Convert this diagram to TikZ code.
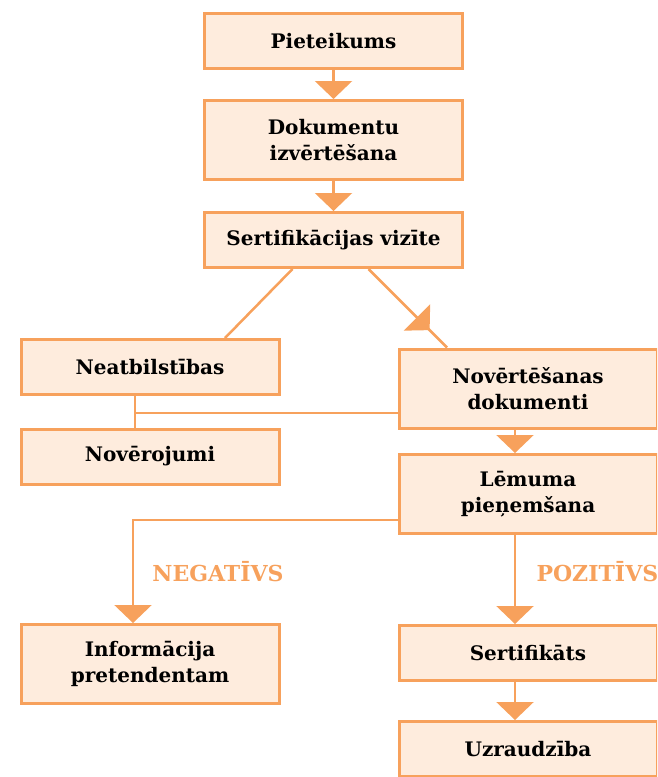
\documentclass[tikz,border=0pt]{standalone}
\usepackage{fontspec}
\setmainfont{DejaVu Serif}
\usetikzlibrary{positioning, arrows.meta, decorations.markings, calc}
\definecolor{flowline}{RGB}{247,161,92}
\definecolor{flowfill}{RGB}{254,236,221}
\tikzset{
    stage/.style={draw=flowline, fill=flowfill, line width=3pt, minimum width=258pt,
      minimum height=55pt, align=center, inner sep=2pt,
      font=\bfseries\fontsize{20}{26}\selectfont},
    tall/.append style={minimum height=79pt},
    link/.style={draw=flowline, line width=2.5pt},
    flow/.style={link, -{Triangle[width=37pt, length=18pt]}},
    verdict/.style={text=flowline, font=\bfseries\fontsize{22}{26}\selectfont},
}

\begin{document}
\begin{tikzpicture}[x=1pt, y=-1pt]
    \useasboundingbox (0,0) rectangle (657,777);
    \clip (0,0) rectangle (657,777);

    \node[stage] (pie) at (333.5,41) {Pieteikums};
    \node[stage, tall, below=29pt of pie] (dok) {Dokumentu\\izvērtēšana};
    \node[stage, below=30pt of dok] (sert) {Sertifikācijas vizīte};

    \node[stage] (neat) at (150,367) {Neatbilstības};
    \node[stage] (nob) at (150,456.5) {Novērojumi};
    \node[stage, tall] (nov) at (528,388.5) {Novērtēšanas\\dokumenti};
    \node[stage, tall] (lem) at (528,494) {Lēmuma\\pieņemšana};
    \node[stage, tall] (inf) at (150,664) {Informācija\\pretendentam};
    \node[stage] (cert) at (528,653) {Sertifikāts};
    \node[stage] (uzr) at (528,749) {Uzraudzība};

    \node[verdict] (neg) at (218,572) {NEGATĪVS};
    \node[verdict, anchor=west] (poz) at (533,572) {POZITĪVS};

    \draw[flow] (pie) -- (dok);
    \draw[flow] (dok) -- (sert);

    \draw[link] ([xshift=-41pt]sert.south) -- ([xshift=75pt]neat.north);
    \draw[link, postaction={decorate}, decoration={markings,
      mark=at position 0.78 with {\arrow{Triangle[width=37pt, length=18pt]}}}]
      ([xshift=35pt]sert.south) -- ([xshift=-81pt]nov.north);

    \coordinate (j) at ([xshift=-15pt]neat.south);
    \draw[link] (j) -- (j |- nob.north);
    \draw[link] ([yshift=-24.5pt]nov.west) -- ([yshift=-24.5pt]nov.west -| j);

    \draw[flow] ([xshift=-13pt]nov.south) -- ([xshift=-13pt]lem.north);
    \draw[flow] ([yshift=-26pt]lem.west) -| ([xshift=-17pt]inf.north);
    \draw[flow] ([xshift=-13pt]lem.south) -- ([xshift=-13pt]cert.north);
    \draw[flow] ([xshift=-13pt]cert.south) -- ([xshift=-13pt]uzr.north);
\end{tikzpicture}
\end{document}
